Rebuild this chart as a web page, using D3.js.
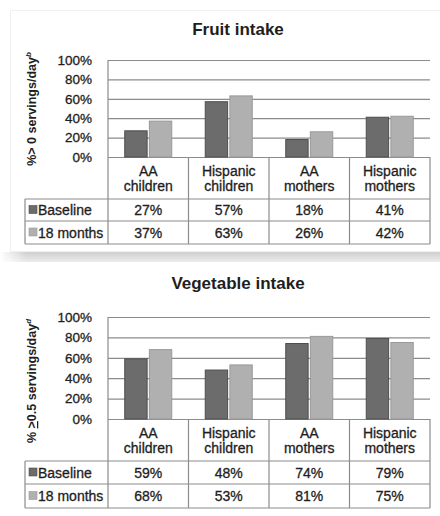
<!DOCTYPE html>
<html><head><meta charset="utf-8">
<script src="https://cdn.jsdelivr.net/npm/d3@7"></script>
<style>
html,body{margin:0;padding:0;background:#fff;}
svg{display:block;font-family:"Liberation Sans",Arial,sans-serif;}
.t{stroke:#1e1e1e;stroke-width:0.3px;}
</style></head>
<body><svg id="c" width="440" height="516"></svg>
<script>
// ---- data ----
const categories = [["AA","children"],["Hispanic","children"],["AA","mothers"],["Hispanic","mothers"]];
const seriesNames = ["Baseline","18 months"];
const fruitBaseline = [27,57,18,41];
const fruit18Months = [37,63,26,42];
const vegBaseline = [59,48,74,79];
const veg18Months = [68,53,81,75];
const yTicks = [0,20,40,60,80,100];
const titles = ["Fruit intake","Vegetable intake"];

const colors = ["#6c6c6c","#b0b0b0"];
const strokes = ["#4e4e4e","#999"];

const svg = d3.select("#c");

// background cards / shadow band
const defs = svg.append("defs");
const g1 = defs.append("linearGradient").attr("id","sh").attr("x1",0).attr("x2",0).attr("y1",0).attr("y2",1);
g1.append("stop").attr("offset","0").attr("stop-color","#cfcfcf");
g1.append("stop").attr("offset","1").attr("stop-color","#ececec");
const g2 = defs.append("linearGradient").attr("id","shx").attr("x1",0).attr("x2",1).attr("y1",0).attr("y2",0);
g2.append("stop").attr("offset","0").attr("stop-color","#fff").attr("stop-opacity",1);
g2.append("stop").attr("offset","0.06").attr("stop-color","#fff").attr("stop-opacity",0);
svg.append("rect").attr("x",0).attr("y",252).attr("width",440).attr("height",10).attr("fill","url(#sh)");
svg.append("rect").attr("x",0).attr("y",252).attr("width",440).attr("height",10).attr("fill","url(#shx)");
svg.append("rect").attr("x",10.5).attr("y",10.5).attr("width",440).attr("height",241).attr("fill","#fff").attr("stroke","#f0f0f0");

const panels = [
  {title:titles[0], data:[fruitBaseline,fruit18Months], titleY:35, y0:157, y100:60, rows:[157,199,221,244], labelY:109, sup:"b", veg:false},
  {title:titles[1], data:[vegBaseline,veg18Months], titleY:289, y0:419, y100:317, rows:[419,461,484,508], labelY:381, sup:"d", veg:true}
];

const xL = 108, xR = 430, tblL = 25;
const x = d3.scaleBand().domain(d3.range(categories.length)).range([xL,xR]);
const xs = d3.scaleBand().domain(d3.range(seriesNames.length))
  .range([x.bandwidth()/2-24, x.bandwidth()/2+24]).paddingInner(0.05);

const lineCol = "#8c8c8c";
const txt = "#1e1e1e";

panels.forEach(p => {
  const g = svg.append("g");
  const y = d3.scaleLinear().domain([0,100]).range([p.y0,p.y100]);

  g.append("text").attr("x",238).attr("y",p.titleY).attr("text-anchor","middle")
    .attr("font-size",17).attr("font-weight","bold").attr("fill",txt).text(p.title);

  // gridlines
  const grid = g.append("g").attr("transform",`translate(${xL},0)`)
    .call(d3.axisLeft(y).tickValues(yTicks).tickSize(-(xR-xL)).tickFormat(""));
  grid.select(".domain").remove();
  grid.selectAll(".tick line").attr("stroke",lineCol).attr("stroke-width",1.2);

  // tick labels
  const ax = g.append("g").attr("transform",`translate(92,0)`)
    .call(d3.axisLeft(y).tickValues(yTicks).tickSize(0).tickPadding(0).tickFormat(d=>d+"%"));
  ax.select(".domain").remove();
  ax.selectAll("text").attr("class","t").attr("font-size",13.5).attr("fill",txt).attr("font-family","Liberation Sans, Arial, sans-serif");

  // left axis line
  g.append("line").attr("x1",xL).attr("x2",xL).attr("y1",y(100)).attr("y2",y(0)).attr("stroke",lineCol).attr("stroke-width",1.2);

  // bars
  p.data.forEach((vals,si) => {
    g.selectAll(null).data(vals).enter().append("rect")
      .attr("x",(d,i)=>x(i)+xs(si)+0.5)
      .attr("width",xs.bandwidth()-1)
      .attr("y",d=>y(d))
      .attr("height",d=>y(0)-y(d))
      .attr("fill",colors[si]).attr("stroke",strokes[si]).attr("stroke-width",1);
  });

  // y label
  const lab = g.append("text").attr("transform",`translate(36,${p.labelY}) rotate(-90)`)
    .attr("text-anchor","middle").attr("font-size",12.5).attr("font-weight","bold").attr("fill",txt);
  if (!p.veg) {
    lab.append("tspan").text("%> 0 servings/day");
  } else {
    lab.append("tspan").text("% ");
    lab.append("tspan").attr("text-decoration","underline").text(">");
    lab.append("tspan").text("0.5 servings/day");
  }
  lab.append("tspan").attr("dy",-5).attr("font-size",8).attr("font-style","italic").text(p.sup);

  // table
  const [r0,r1,r2,r3] = p.rows;
  const tl = g.append("g").attr("stroke",lineCol).attr("stroke-width",1.2).attr("fill","none");
  tl.append("path").attr("d",`M${xL},${r0}V${r3}M${xR},${r0}V${r3}M${xL},${r1}H${xR}`);
  x.domain().forEach(i => { if (i>0) tl.append("line").attr("x1",x(i)).attr("x2",x(i)).attr("y1",r0).attr("y2",r3); });
  tl.append("path").attr("d",`M${tblL},${r1}H${xL}M${tblL},${r2}H${xR}M${tblL},${r3}H${xR}M${tblL},${r1}V${r3}`);

  // header labels
  categories.forEach((c,i) => {
    const cx = x(i)+x.bandwidth()/2;
    const mid = (r0+r1)/2;
    g.append("text").attr("class","t").attr("x",cx).attr("y",mid-2).attr("text-anchor","middle").attr("font-size",14).attr("fill",txt).text(c[0]);
    g.append("text").attr("class","t").attr("x",cx).attr("y",mid+13).attr("text-anchor","middle").attr("font-size",14).attr("fill",txt).text(c[1]);
  });

  // data rows text
  const rowsY = [[r1,r2],[r2,r3]];
  p.data.forEach((vals,si) => {
    const cy = (rowsY[si][0]+rowsY[si][1])/2;
    g.append("rect").attr("x",29).attr("y",cy-4.5).attr("width",8).attr("height",8).attr("fill",colors[si]).attr("stroke",strokes[si]).attr("stroke-width",0.6);
    g.append("text").attr("class","t").attr("x",38).attr("y",cy).attr("dy","0.36em").attr("font-size",14).attr("fill",txt).text(seriesNames[si]);
    vals.forEach((v,i) => {
      g.append("text").attr("class","t").attr("x",x(i)+x.bandwidth()/2).attr("y",cy).attr("dy","0.36em")
        .attr("text-anchor","middle").attr("font-size",14).attr("fill",txt).text(v+"%");
    });
  });
});
</script></body></html>
